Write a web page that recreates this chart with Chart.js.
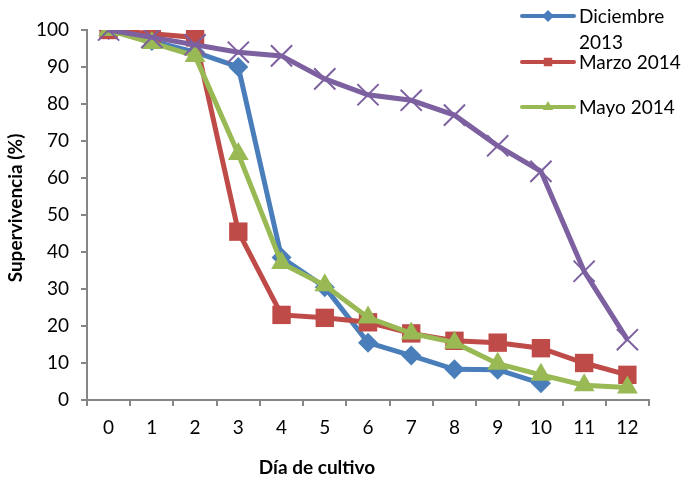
<!DOCTYPE html>
<html>
<head>
<meta charset="utf-8">
<script src="https://cdn.jsdelivr.net/npm/chart.js@4/dist/chart.umd.min.js"></script>
<style>
html,body{margin:0;padding:0;background:#fff;}
#wrap{position:relative;width:684px;height:478px;}
</style>
</head>
<body>
<div id="wrap"><canvas id="c" width="684" height="478"></canvas></div>
<script>
const categories = ['0','1','2','3','4','5','6','7','8','9','10','11','12'];
const diciembre2013 = [100, 97, 94, 90, 38.5, 30.5, 15.5, 12, 8.3, 8.2, 4.5];
const marzo2014 = [100, 99, 98, 45.5, 23, 22.2, 21, 18, 16, 15.5, 14, 10, 6.8];
const mayo2014 = [100, 96.5, 93, 66.5, 37, 31, 22.3, 18, 15.5, 9.8, 6.8, 4, 3.4];
const serie4 = [100, 98, 96, 94, 93, 86.8, 82.5, 81, 77, 68.7, 61.8, 34.8, 16.3];
const seriesNames = ['Diciembre 2013', 'Marzo 2014', 'Mayo 2014', ''];
const yTicks = [0,10,20,30,40,50,60,70,80,90,100];
const xTitle = 'Día de cultivo';
const yTitle = 'Supervivencia (%)';

const FONT = 'Lato, "Open Sans", "Liberation Sans", sans-serif';

const decorPlugin = {
  id: 'decor',
  afterDraw(chart) {
    const ctx = chart.ctx;
    ctx.save();
    // axis titles
    ctx.fillStyle = '#000';
    ctx.font = 'bold 19px ' + FONT;
    ctx.textAlign = 'center';
    ctx.textBaseline = 'middle';
    ctx.fillText(xTitle, 317, 468);
    ctx.save();
    ctx.translate(16, 208);
    ctx.rotate(-Math.PI / 2);
    ctx.fillText(yTitle, 0, 0);
    ctx.restore();
    // legend
    const items = [
      {ds: 0, lines: ['Diciembre', '2013'], y: 16, ty: [17, 43]},
      {ds: 1, lines: ['Marzo 2014'], y: 62, ty: [63]},
      {ds: 2, lines: ['Mayo 2014'], y: 107, ty: [108]}
    ];
    items.forEach(it => {
      const ds = chart.data.datasets[it.ds];
      ctx.strokeStyle = ds.borderColor;
      ctx.lineWidth = 4;
      ctx.lineCap = 'round';
      ctx.beginPath();
      ctx.moveTo(522, it.y);
      ctx.lineTo(574, it.y);
      ctx.stroke();
      ctx.fillStyle = ds.borderColor;
      ctx.lineWidth = 1;
      Chart.helpers.drawPoint(ctx, {pointStyle: ds.pointStyle, radius: 6, rotation: 0, borderWidth: 0}, 548, it.y);
      ctx.fillStyle = '#000';
      ctx.font = '19px ' + FONT;
      ctx.textBaseline = 'middle';
      ctx.textAlign = 'left';
      it.lines.forEach((t, i) => ctx.fillText(t, 579, it.ty[i]));
    });
    ctx.restore();
  }
};

new Chart(document.getElementById('c'), {
  type: 'line',
  data: {
    labels: categories,
    datasets: [
      {label: seriesNames[0], data: diciembre2013, borderColor: '#4A7EBB', backgroundColor: '#4A7EBB',
       borderWidth: 5, pointStyle: 'rectRot', pointRadius: 10, pointBorderWidth: 0, order: 4, tension: 0},
      {label: seriesNames[1], data: marzo2014, borderColor: '#BE4B48', backgroundColor: '#BE4B48',
       borderWidth: 5, pointStyle: 'rect', pointRadius: 13, pointBorderWidth: 0, order: 3, tension: 0},
      {label: seriesNames[2], data: mayo2014, borderColor: '#98B954', backgroundColor: '#98B954',
       borderWidth: 5, pointStyle: 'triangle', pointRadius: 12, pointBorderWidth: 0, order: 2, tension: 0},
      {label: seriesNames[3], data: serie4, borderColor: '#7D60A0', backgroundColor: '#7D60A0',
       borderWidth: 5, pointStyle: 'crossRot', pointRadius: 15, pointBorderWidth: 2, order: 1, tension: 0}
    ]
  },
  options: {
    responsive: false,
    animation: false,
    devicePixelRatio: 1,
    layout: {padding: {top: 30, right: 35, bottom: 0, left: 0}},
    plugins: {legend: {display: false}, tooltip: {enabled: false}},
    scales: {
      x: {
        offset: true,
        grid: {display: true, offset: true, drawOnChartArea: false, color: '#868686', lineWidth: 2, tickLength: 6, tickWidth: 2},
        border: {display: true, color: '#868686', width: 2},
        ticks: {color: '#000', font: {family: FONT, size: 19}, padding: 10, maxRotation: 0},
        afterFit(s) { s.height = 78; }
      },
      y: {
        min: 0, max: 100,
        afterBuildTicks(s) { s.ticks = yTicks.map(v => ({value: v})); },
        grid: {display: true, drawOnChartArea: false, color: '#868686', lineWidth: 2, tickLength: 6, tickWidth: 2},
        border: {display: true, color: '#868686', width: 2},
        ticks: {color: '#000', font: {family: FONT, size: 19}, padding: 12},
        afterFit(s) { s.width = 87; }
      }
    }
  },
  plugins: [decorPlugin]
});
</script>
</body>
</html>
